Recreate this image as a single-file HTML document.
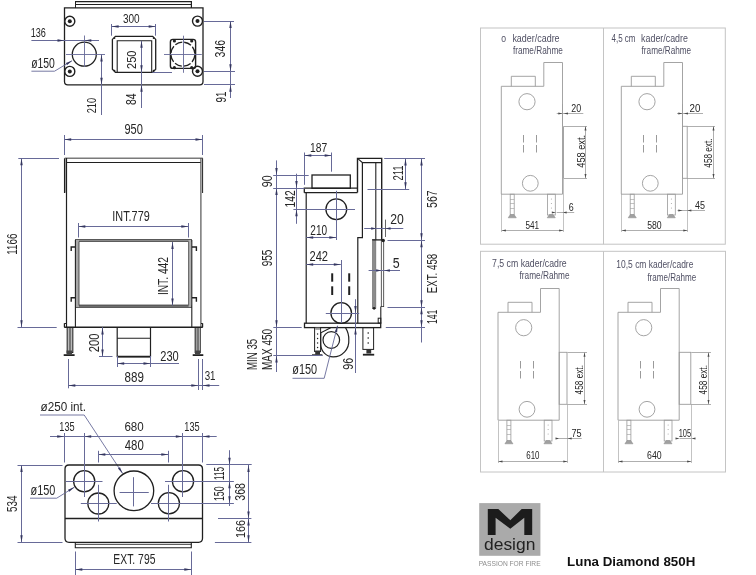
<!DOCTYPE html>
<html><head><meta charset="utf-8"><style>
html,body{margin:0;padding:0;background:#fff;width:756px;height:575px;overflow:hidden}
svg{display:block;will-change:transform}
text{font-family:"Liberation Sans",sans-serif}
</style></head><body>
<svg width="756" height="575" viewBox="0 0 756 575">
<rect x="0" y="0" width="756" height="575" fill="#fff"/>
<line x1="75.2" y1="1.6" x2="191.4" y2="1.6" stroke="#202020" stroke-width="1.3" />
<line x1="75.2" y1="4.5" x2="191.4" y2="4.5" stroke="#202020" stroke-width="1.2" />
<line x1="191.4" y1="1" x2="191.4" y2="8" stroke="#202020" stroke-width="1.2" />
<line x1="75.5" y1="1" x2="75.5" y2="8" stroke="#202020" stroke-width="1" />
<path d="M64.5,7.9 H203.0 V81.5 Q203,84.8 199.8,84.8 H67.7 Q64.5,84.8 64.5,81.5 Z" stroke="#202020" stroke-width="1.3" fill="none" />
<circle cx="69.8" cy="21.2" r="5" stroke="#202020" stroke-width="1.4" fill="#fff" />
<circle cx="69.8" cy="21.2" r="2" stroke="#202020" stroke-width="0" fill="#202020" />
<circle cx="197.5" cy="21.1" r="5" stroke="#202020" stroke-width="1.4" fill="#fff" />
<circle cx="197.5" cy="21.1" r="2" stroke="#202020" stroke-width="0" fill="#202020" />
<circle cx="69.8" cy="71.4" r="5" stroke="#202020" stroke-width="1.4" fill="#fff" />
<circle cx="69.8" cy="71.4" r="2" stroke="#202020" stroke-width="0" fill="#202020" />
<circle cx="197.5" cy="71.3" r="5" stroke="#202020" stroke-width="1.4" fill="#fff" />
<circle cx="197.5" cy="71.3" r="2" stroke="#202020" stroke-width="0" fill="#202020" />
<circle cx="84.3" cy="54.2" r="12" stroke="#202020" stroke-width="1.3" fill="none" />
<line x1="84.5" y1="35.5" x2="84.5" y2="67" stroke="#676a98" stroke-width="0.9" />
<line x1="66" y1="54.5" x2="105" y2="54.5" stroke="#676a98" stroke-width="0.9" />
<path d="M115.4,36.4 H152.7 L155.7,39.4 V69.3 L152.7,72.3 H115.4 L112.4,69.3 V39.4 Z" stroke="#202020" stroke-width="1.3" fill="none" />
<polyline points="117.2,72.3 117.2,40.8 151.7,40.8 151.7,72.3" stroke="#202020" stroke-width="1.1" fill="none"/>
<circle cx="114.5" cy="38.1" r="0.9" stroke="#202020" stroke-width="0" fill="#202020" />
<circle cx="153.6" cy="38.1" r="0.9" stroke="#202020" stroke-width="0" fill="#202020" />
<circle cx="114.5" cy="70.6" r="0.9" stroke="#202020" stroke-width="0" fill="#202020" />
<circle cx="153.6" cy="70.6" r="0.9" stroke="#202020" stroke-width="0" fill="#202020" />
<rect x="170.4" y="39.4" width="25.2" height="29" rx="2.5" stroke="#202020" stroke-width="1.4" fill="none"/>
<circle cx="182.9" cy="54.2" r="12" stroke="#202020" stroke-width="1.3" fill="none" stroke-dasharray="7.42 2" stroke-dashoffset="8.42"/>
<circle cx="174.4" cy="41" r="1.6" stroke="#202020" stroke-width="0" fill="#202020" />
<circle cx="191.7" cy="41" r="1.6" stroke="#202020" stroke-width="0" fill="#202020" />
<circle cx="174.4" cy="67.7" r="1.6" stroke="#202020" stroke-width="0" fill="#202020" />
<circle cx="191.7" cy="67.7" r="1.6" stroke="#202020" stroke-width="0" fill="#202020" />
<line x1="183.5" y1="35.7" x2="183.5" y2="72.8" stroke="#676a98" stroke-width="0.9" />
<line x1="164" y1="54.5" x2="201.8" y2="54.5" stroke="#676a98" stroke-width="0.9" />
<line x1="31.4" y1="40.5" x2="99" y2="40.5" stroke="#676a98" stroke-width="1" />
<polygon points="64.5,40.5 57.5,39.3 57.5,41.7" fill="#34365f"/>
<polygon points="84.3,40.5 91.3,39.3 91.3,41.7" fill="#34365f"/>
<text x="30.71" y="36.57" font-size="13.28" textLength="15.19" lengthAdjust="spacingAndGlyphs" fill="#262626" font-weight="normal">136</text>
<polyline points="31.4,71.2 54.5,71.2 71.9,60.8" stroke="#676a98" stroke-width="0.9" fill="none"/>
<polygon points="72.5,60.5 67.1,65.11 65.87,63.05" fill="#34365f"/>
<text x="31.18" y="67.92" font-size="14.93" textLength="23.73" lengthAdjust="spacingAndGlyphs" fill="#262626" font-weight="normal">ø150</text>
<line x1="101.5" y1="54.2" x2="101.5" y2="115" stroke="#676a98" stroke-width="1" />
<polygon points="101.5,54.4 100.3,61.4 102.7,61.4" fill="#34365f"/>
<polygon points="101.5,84.8 100.3,77.8 102.7,77.8" fill="#34365f"/>
<text transform="translate(95.77,113.36) rotate(-90)" x="0" y="0" font-size="12.85" textLength="15.43" lengthAdjust="spacingAndGlyphs" fill="#262626">210</text>
<line x1="111.5" y1="24" x2="111.5" y2="35.7" stroke="#676a98" stroke-width="1" />
<line x1="155.5" y1="24" x2="155.5" y2="35.7" stroke="#676a98" stroke-width="1" />
<line x1="111.6" y1="26.5" x2="155.7" y2="26.5" stroke="#676a98" stroke-width="1" />
<polygon points="111.6,26.5 118.6,25.3 118.6,27.7" fill="#34365f"/>
<polygon points="155.7,26.5 148.7,25.3 148.7,27.7" fill="#34365f"/>
<text x="122.92" y="23.48" font-size="12.71" textLength="16.78" lengthAdjust="spacingAndGlyphs" fill="#262626" font-weight="normal">300</text>
<line x1="141.5" y1="40.8" x2="141.5" y2="108" stroke="#676a98" stroke-width="1" />
<polygon points="141.5,40.8 140.3,47.8 142.7,47.8" fill="#34365f"/>
<polygon points="141.5,72.3 140.3,65.3 142.7,65.3" fill="#34365f"/>
<polygon points="141.5,84.8 140.3,91.8 142.7,91.8" fill="#34365f"/>
<line x1="152.4" y1="72.5" x2="172" y2="72.5" stroke="#676a98" stroke-width="1" />
<text transform="translate(135.57,68.96) rotate(-90)" x="0" y="0" font-size="13.42" textLength="18.49" lengthAdjust="spacingAndGlyphs" fill="#262626">250</text>
<text transform="translate(136.36,105.05) rotate(-90)" x="0" y="0" font-size="13.98" textLength="11.56" lengthAdjust="spacingAndGlyphs" fill="#262626">84</text>
<line x1="204" y1="21.5" x2="234" y2="21.5" stroke="#676a98" stroke-width="1" />
<line x1="204" y1="71.5" x2="235" y2="71.5" stroke="#676a98" stroke-width="1" />
<line x1="204" y1="84.5" x2="235" y2="84.5" stroke="#676a98" stroke-width="1" />
<line x1="230.5" y1="21.1" x2="230.5" y2="98" stroke="#676a98" stroke-width="1" />
<polygon points="230.5,21.1 229.3,28.1 231.7,28.1" fill="#34365f"/>
<polygon points="230.5,71.3 229.3,64.3 231.7,64.3" fill="#34365f"/>
<polygon points="230.5,84.8 229.3,91.8 231.7,91.8" fill="#34365f"/>
<text transform="translate(224.86,57.4) rotate(-90)" x="0" y="0" font-size="14.12" textLength="17.35" lengthAdjust="spacingAndGlyphs" fill="#262626">346</text>
<text transform="translate(225.65,102.46) rotate(-90)" x="0" y="0" font-size="15.25" textLength="10.94" lengthAdjust="spacingAndGlyphs" fill="#262626">91</text>
<line x1="64.5" y1="135" x2="64.5" y2="155" stroke="#676a98" stroke-width="1" />
<line x1="202.5" y1="135" x2="202.5" y2="155" stroke="#676a98" stroke-width="1" />
<line x1="64.2" y1="139.5" x2="202.5" y2="139.5" stroke="#676a98" stroke-width="1" />
<polygon points="64.2,139.5 71.2,138.3 71.2,140.7" fill="#34365f"/>
<polygon points="202.5,139.5 195.5,138.3 195.5,140.7" fill="#34365f"/>
<text x="124.48" y="133.56" font-size="14.69" textLength="18.45" lengthAdjust="spacingAndGlyphs" fill="#262626" font-weight="normal">950</text>
<line x1="64.7" y1="158.3" x2="202.8" y2="158.3" stroke="#7a7a7a" stroke-width="1.5" />
<line x1="66.5" y1="162.5" x2="201" y2="162.5" stroke="#202020" stroke-width="1.2" />
<polyline points="64.6,193 64.6,158.3" stroke="#202020" stroke-width="1.3" fill="none"/>
<polyline points="202.6,193 202.6,158.3" stroke="#202020" stroke-width="1" fill="none"/>
<rect x="65.2" y="158.5" width="0.8" height="34" fill="#999"/>
<line x1="66.5" y1="158" x2="66.5" y2="327.2" stroke="#202020" stroke-width="1.2" />
<line x1="200.9" y1="158" x2="200.9" y2="327.2" stroke="#555" stroke-width="1.2" />
<line x1="18.3" y1="158.5" x2="59" y2="158.5" stroke="#676a98" stroke-width="1" />
<line x1="17.5" y1="327.5" x2="56.7" y2="327.5" stroke="#676a98" stroke-width="1" />
<line x1="21.5" y1="158.2" x2="21.5" y2="327.2" stroke="#676a98" stroke-width="1" />
<polygon points="21.5,158.2 20.3,165.2 22.7,165.2" fill="#34365f"/>
<polygon points="21.5,327.2 20.3,320.2 22.7,320.2" fill="#34365f"/>
<text transform="translate(16.55,254.72) rotate(-90)" x="0" y="0" font-size="15.4" textLength="21.14" lengthAdjust="spacingAndGlyphs" fill="#262626">1166</text>
<line x1="78.5" y1="223" x2="78.5" y2="237.5" stroke="#676a98" stroke-width="1" />
<line x1="188.5" y1="223" x2="188.5" y2="237.5" stroke="#676a98" stroke-width="1" />
<line x1="78.3" y1="226.5" x2="188.3" y2="226.5" stroke="#676a98" stroke-width="1" />
<polygon points="78.3,226.5 85.3,225.3 85.3,227.7" fill="#34365f"/>
<polygon points="188.3,226.5 181.3,225.3 181.3,227.7" fill="#34365f"/>
<text x="112.33" y="221.06" font-size="13.98" textLength="37.37" lengthAdjust="spacingAndGlyphs" fill="#262626" font-weight="normal">INT.779</text>
<rect x="75" y="239.2" width="117" height="2.8" fill="#9a9a9a"/>
<rect x="75" y="304.8" width="117" height="2.8" fill="#8a8a8a"/>
<line x1="75" y1="239.7" x2="192" y2="239.7" stroke="#444" stroke-width="1" />
<line x1="79" y1="241.5" x2="188.6" y2="241.5" stroke="#555" stroke-width="0.9" />
<line x1="79" y1="305.2" x2="188.6" y2="305.2" stroke="#444" stroke-width="1" />
<line x1="75" y1="307.2" x2="192" y2="307.2" stroke="#333" stroke-width="1" />
<rect x="75.5" y="240" width="3.5" height="67" fill="#a8a8a8"/>
<rect x="188.6" y="240" width="2.9" height="67" fill="#b0b0b0"/>
<line x1="75.4" y1="240" x2="75.4" y2="327" stroke="#202020" stroke-width="1.1" />
<line x1="191.8" y1="240" x2="191.8" y2="327" stroke="#202020" stroke-width="1.1" />
<line x1="79" y1="241.5" x2="79" y2="305.5" stroke="#444" stroke-width="0.9" />
<line x1="188.6" y1="241.5" x2="188.6" y2="305.5" stroke="#555" stroke-width="0.9" />
<polyline points="75,247 71.2,247 71.2,251" stroke="#202020" stroke-width="1.4" fill="none"/>
<polyline points="192,247 196.4,247 196.4,251" stroke="#202020" stroke-width="1.4" fill="none"/>
<polyline points="75,297.8 71.2,297.8 71.2,301.8" stroke="#202020" stroke-width="1.4" fill="none"/>
<polyline points="192,297.8 196.4,297.8 196.4,301.8" stroke="#202020" stroke-width="1.4" fill="none"/>
<line x1="172.5" y1="242" x2="172.5" y2="305.5" stroke="#676a98" stroke-width="1" />
<polygon points="172.5,242 171.3,249 173.7,249" fill="#34365f"/>
<polygon points="172.5,305.5 171.3,298.5 173.7,298.5" fill="#34365f"/>
<text transform="translate(167.5,295.12) rotate(-90)" x="0" y="0" font-size="15.47" textLength="38.12" lengthAdjust="spacingAndGlyphs" fill="#262626">INT. 442</text>
<line x1="64.2" y1="327.2" x2="202.8" y2="327.2" stroke="#202020" stroke-width="1.6" />
<line x1="64.4" y1="323.3" x2="64.4" y2="327.2" stroke="#202020" stroke-width="1.2" />
<line x1="202.6" y1="323.3" x2="202.6" y2="327.2" stroke="#202020" stroke-width="1.2" />
<line x1="64.4" y1="323.5" x2="66.5" y2="323.5" stroke="#202020" stroke-width="1" />
<line x1="201" y1="323.5" x2="202.6" y2="323.5" stroke="#202020" stroke-width="1" />
<rect x="67.2" y="327.5" width="5.6" height="25" rx="0" stroke="#202020" stroke-width="1.1" fill="none"/>
<rect x="68.5" y="328" width="3" height="24" fill="#777"/>
<rect x="63.7" y="354.2" width="10.9" height="1.8" fill="#222"/>
<rect x="66.5" y="350.5" width="5.5" height="3.7" fill="#444"/>
<rect x="195.2" y="327.5" width="5" height="25" rx="0" stroke="#202020" stroke-width="1.1" fill="none"/>
<rect x="196.3" y="328" width="2.7" height="24" fill="#777"/>
<rect x="192.7" y="354.2" width="10.6" height="1.8" fill="#222"/>
<rect x="195" y="350.5" width="5.2" height="3.7" fill="#444"/>
<polyline points="117.2,327.2 117.2,356.6 150.5,356.6 150.5,327.2" stroke="#202020" stroke-width="1.2" fill="none"/>
<line x1="117.2" y1="356.6" x2="150.5" y2="356.6" stroke="#202020" stroke-width="1.6" />
<line x1="117.2" y1="338.3" x2="150.5" y2="338.3" stroke="#202020" stroke-width="1.1" />
<line x1="102.5" y1="327.2" x2="102.5" y2="356.7" stroke="#676a98" stroke-width="1" />
<line x1="99" y1="356.5" x2="112.5" y2="356.5" stroke="#676a98" stroke-width="1" />
<polygon points="102.5,327.4 101.3,334.4 103.7,334.4" fill="#34365f"/>
<polygon points="102.5,356.5 101.3,349.5 103.7,349.5" fill="#34365f"/>
<text transform="translate(99.05,352.26) rotate(-90)" x="0" y="0" font-size="15.4" textLength="18.7" lengthAdjust="spacingAndGlyphs" fill="#262626">200</text>
<line x1="117.5" y1="356" x2="117.5" y2="367" stroke="#676a98" stroke-width="1" />
<line x1="150.5" y1="356" x2="150.5" y2="367" stroke="#676a98" stroke-width="1" />
<line x1="117.2" y1="363.5" x2="179" y2="363.5" stroke="#676a98" stroke-width="1" />
<polygon points="117.2,363.5 124.2,362.3 124.2,364.7" fill="#34365f"/>
<polygon points="150.5,363.5 143.5,362.3 143.5,364.7" fill="#34365f"/>
<text x="160.24" y="360.66" font-size="14.12" textLength="18.49" lengthAdjust="spacingAndGlyphs" fill="#262626" font-weight="normal">230</text>
<line x1="68.5" y1="359" x2="68.5" y2="388.3" stroke="#676a98" stroke-width="1" />
<line x1="198.5" y1="359" x2="198.5" y2="390" stroke="#676a98" stroke-width="1" />
<line x1="202.5" y1="359" x2="202.5" y2="390" stroke="#676a98" stroke-width="1" />
<line x1="68.3" y1="385.5" x2="219.2" y2="385.5" stroke="#676a98" stroke-width="1" />
<polygon points="68.3,385.5 75.3,384.3 75.3,386.7" fill="#34365f"/>
<polygon points="198.3,385.5 191.3,384.3 191.3,386.7" fill="#34365f"/>
<polygon points="202.5,385.5 209.5,384.3 209.5,386.7" fill="#34365f"/>
<text x="124.5" y="382.36" font-size="14.12" textLength="19.35" lengthAdjust="spacingAndGlyphs" fill="#262626" font-weight="normal">889</text>
<text x="204.63" y="379.87" font-size="12.99" textLength="10.85" lengthAdjust="spacingAndGlyphs" fill="#262626" font-weight="normal">31</text>
<text x="40.55" y="411.47" font-size="12.38" textLength="45.52" lengthAdjust="spacingAndGlyphs" fill="#262626" font-weight="normal">ø250 int.</text>
<polyline points="40,415 84.2,415 122.5,473.3" stroke="#676a98" stroke-width="0.9" fill="none"/>
<polygon points="122.8,473.8 117.96,468.61 119.96,467.29" fill="#34365f"/>
<line x1="50" y1="436.5" x2="216.7" y2="436.5" stroke="#676a98" stroke-width="1" />
<polygon points="64.2,436.5 57.2,435.3 57.2,437.7" fill="#34365f"/>
<polygon points="84.2,436.5 91.2,435.3 91.2,437.7" fill="#34365f"/>
<polygon points="182.8,436.5 175.8,435.3 175.8,437.7" fill="#34365f"/>
<polygon points="202.5,436.5 209.5,435.3 209.5,437.7" fill="#34365f"/>
<line x1="64.5" y1="433" x2="64.5" y2="462.5" stroke="#676a98" stroke-width="1" />
<line x1="202.5" y1="433" x2="202.5" y2="462.5" stroke="#676a98" stroke-width="1" />
<text x="59.3" y="430.67" font-size="12.85" textLength="15.28" lengthAdjust="spacingAndGlyphs" fill="#262626" font-weight="normal">135</text>
<text x="124.41" y="430.67" font-size="12.85" textLength="19.34" lengthAdjust="spacingAndGlyphs" fill="#262626" font-weight="normal">680</text>
<text x="184.3" y="430.67" font-size="12.85" textLength="15.28" lengthAdjust="spacingAndGlyphs" fill="#262626" font-weight="normal">135</text>
<line x1="98.3" y1="454.5" x2="168.3" y2="454.5" stroke="#676a98" stroke-width="1" />
<polygon points="98.3,454.5 105.3,453.3 105.3,455.7" fill="#34365f"/>
<polygon points="168.3,454.5 161.3,453.3 161.3,455.7" fill="#34365f"/>
<text x="124.74" y="449.86" font-size="14.12" textLength="19.01" lengthAdjust="spacingAndGlyphs" fill="#262626" font-weight="normal">480</text>
<path d="M69,465 H198.5 Q202.5,465 202.5,469 V538.3 Q202.5,542.3 198.5,542.3 H69 Q65,542.3 65,538.3 V469 Q65,465 69,465 Z" stroke="#202020" stroke-width="1.3" fill="none" />
<line x1="65" y1="518.5" x2="202.5" y2="518.5" stroke="#202020" stroke-width="1.3" />
<polyline points="75.3,542.6 75.3,547.7 191.3,547.7 191.3,542.6" stroke="#202020" stroke-width="1.1" fill="none"/>
<line x1="75.3" y1="544.3" x2="191.3" y2="544.3" stroke="#202020" stroke-width="0.9" />
<circle cx="84.2" cy="481.2" r="10.6" stroke="#202020" stroke-width="1.3" fill="none" />
<circle cx="183" cy="481.3" r="10.6" stroke="#202020" stroke-width="1.3" fill="none" />
<circle cx="98.3" cy="503.5" r="10.5" stroke="#202020" stroke-width="1.3" fill="none" />
<circle cx="168.9" cy="503.3" r="10.6" stroke="#202020" stroke-width="1.3" fill="none" />
<circle cx="133.9" cy="490.8" r="19.8" stroke="#202020" stroke-width="1.3" fill="none" />
<line x1="84.5" y1="433" x2="84.5" y2="497" stroke="#676a98" stroke-width="1" />
<line x1="182.5" y1="433" x2="182.5" y2="497" stroke="#676a98" stroke-width="1" />
<line x1="65.8" y1="481.5" x2="102.5" y2="481.5" stroke="#676a98" stroke-width="1" />
<line x1="165" y1="481.5" x2="233.9" y2="481.5" stroke="#676a98" stroke-width="1" />
<line x1="98.5" y1="450.8" x2="98.5" y2="462.5" stroke="#676a98" stroke-width="1" />
<line x1="168.5" y1="450.8" x2="168.5" y2="462.5" stroke="#676a98" stroke-width="1" />
<line x1="98.5" y1="484.8" x2="98.5" y2="521.5" stroke="#676a98" stroke-width="1" />
<line x1="168.5" y1="484.8" x2="168.5" y2="521.5" stroke="#676a98" stroke-width="1" />
<line x1="80.8" y1="503.5" x2="116.7" y2="503.5" stroke="#676a98" stroke-width="1" />
<line x1="151" y1="503.5" x2="233.9" y2="503.5" stroke="#676a98" stroke-width="1" />
<line x1="119.6" y1="492.5" x2="148.75" y2="492.5" stroke="#676a98" stroke-width="1" />
<line x1="133.5" y1="477.2" x2="133.5" y2="506.4" stroke="#676a98" stroke-width="1" />
<line x1="17.5" y1="465.5" x2="62.5" y2="465.5" stroke="#676a98" stroke-width="1" />
<line x1="17.5" y1="542.5" x2="62.5" y2="542.5" stroke="#676a98" stroke-width="1" />
<line x1="21.5" y1="465" x2="21.5" y2="542.3" stroke="#676a98" stroke-width="1" />
<polygon points="21.5,465 20.3,472 22.7,472" fill="#34365f"/>
<polygon points="21.5,542.3 20.3,535.3 22.7,535.3" fill="#34365f"/>
<text transform="translate(16.55,511.9) rotate(-90)" x="0" y="0" font-size="15.4" textLength="16.49" lengthAdjust="spacingAndGlyphs" fill="#262626">534</text>
<text x="30.57" y="494.54" font-size="13.95" textLength="24.86" lengthAdjust="spacingAndGlyphs" fill="#262626" font-weight="normal">ø150</text>
<polyline points="30,498.2 56.7,498.2 74.2,487.3" stroke="#676a98" stroke-width="0.9" fill="none"/>
<polygon points="74.6,487 69.3,491.73 68.03,489.7" fill="#34365f"/>
<line x1="75.5" y1="551.5" x2="75.5" y2="575" stroke="#676a98" stroke-width="1" />
<line x1="191.5" y1="551.5" x2="191.5" y2="575" stroke="#676a98" stroke-width="1" />
<line x1="75.3" y1="569.5" x2="191.3" y2="569.5" stroke="#676a98" stroke-width="1" />
<polygon points="75.3,569.5 82.3,568.3 82.3,570.7" fill="#34365f"/>
<polygon points="191.3,569.5 184.3,568.3 184.3,570.7" fill="#34365f"/>
<text x="113.37" y="563.86" font-size="14.12" textLength="42.05" lengthAdjust="spacingAndGlyphs" fill="#262626" font-weight="normal">EXT. 795</text>
<line x1="206.3" y1="464.5" x2="251.7" y2="464.5" stroke="#676a98" stroke-width="1" />
<line x1="218" y1="518.5" x2="251.4" y2="518.5" stroke="#676a98" stroke-width="1" />
<line x1="214.9" y1="542.5" x2="251.4" y2="542.5" stroke="#676a98" stroke-width="1" />
<line x1="229.5" y1="450.2" x2="229.5" y2="506" stroke="#676a98" stroke-width="1" />
<polygon points="229.5,464.8 228.3,457.8 230.7,457.8" fill="#34365f"/>
<polygon points="229.5,481.3 228.3,488.3 230.7,488.3" fill="#34365f"/>
<polygon points="229.5,503.2 228.3,496.2 230.7,496.2" fill="#34365f"/>
<line x1="248.5" y1="465" x2="248.5" y2="542.3" stroke="#676a98" stroke-width="1" />
<polygon points="248.5,465 247.3,472 249.7,472" fill="#34365f"/>
<polygon points="248.5,518.5 247.3,511.5 249.7,511.5" fill="#34365f"/>
<polygon points="248.5,518.5 247.3,525.5 249.7,525.5" fill="#34365f"/>
<polygon points="248.5,542.3 247.3,535.3 249.7,535.3" fill="#34365f"/>
<text transform="translate(223.86,479.99) rotate(-90)" x="0" y="0" font-size="14.19" textLength="12.91" lengthAdjust="spacingAndGlyphs" fill="#262626">115</text>
<text transform="translate(223.86,500.96) rotate(-90)" x="0" y="0" font-size="13.98" textLength="14.5" lengthAdjust="spacingAndGlyphs" fill="#262626">150</text>
<text transform="translate(245.26,500.7) rotate(-90)" x="0" y="0" font-size="14.69" textLength="17.56" lengthAdjust="spacingAndGlyphs" fill="#262626">368</text>
<text transform="translate(245.07,537.92) rotate(-90)" x="0" y="0" font-size="13.28" textLength="18" lengthAdjust="spacingAndGlyphs" fill="#262626">166</text>
<line x1="304.5" y1="152.5" x2="304.5" y2="184.8" stroke="#676a98" stroke-width="1" />
<line x1="331.5" y1="152.5" x2="331.5" y2="171.7" stroke="#676a98" stroke-width="1" />
<line x1="304.3" y1="155.5" x2="331.7" y2="155.5" stroke="#676a98" stroke-width="1" />
<polygon points="304.3,155.5 311.3,154.3 311.3,156.7" fill="#34365f"/>
<polygon points="331.7,155.5 324.7,154.3 324.7,156.7" fill="#34365f"/>
<text x="310.01" y="151.57" font-size="12.99" textLength="17.2" lengthAdjust="spacingAndGlyphs" fill="#262626" font-weight="normal">187</text>
<rect x="312" y="175" width="38.3" height="13.3" rx="0" stroke="#202020" stroke-width="1.3" fill="none"/>
<polyline points="304.3,192.8 304.3,188.1 357.5,188.1" stroke="#202020" stroke-width="1.3" fill="none"/>
<line x1="304.3" y1="192.6" x2="357.5" y2="192.6" stroke="#202020" stroke-width="1.3" />
<line x1="306.2" y1="193" x2="306.2" y2="323.3" stroke="#202020" stroke-width="1.2" />
<polyline points="357.5,192.6 357.5,158.4 381.7,158.4 381.7,240" stroke="#202020" stroke-width="1.4" fill="none"/>
<polyline points="357.5,158.4 362.5,162.6 381.7,162.6" stroke="#202020" stroke-width="1.2" fill="none"/>
<polyline points="362.4,162.6 362.4,237.7 357.8,237.7 357.8,323.3" stroke="#202020" stroke-width="1.2" fill="none"/>
<line x1="375.8" y1="162.6" x2="375.8" y2="240" stroke="#202020" stroke-width="1.1" />
<rect x="372.3" y="239.7" width="3.6" height="68.8" fill="#8c8c8c"/>
<rect x="372.3" y="239.7" width="3.6" height="68.8" rx="0" stroke="#666" stroke-width="0.5" fill="none"/>
<circle cx="374.1" cy="308.3" r="1.4" stroke="#202020" stroke-width="0" fill="#202020" />
<line x1="372.3" y1="239.9" x2="383.3" y2="239.9" stroke="#202020" stroke-width="1.3" />
<rect x="381.3" y="240" width="2.4" height="66.6" rx="0" stroke="#333" stroke-width="0.8" fill="none"/>
<line x1="380.8" y1="306.6" x2="380.8" y2="323.5" stroke="#202020" stroke-width="1.1" />
<circle cx="383.2" cy="240.5" r="1.7" stroke="#202020" stroke-width="0" fill="#202020" />
<line x1="332.2" y1="273.3" x2="332.2" y2="281.7" stroke="#202020" stroke-width="2" />
<line x1="332.2" y1="286.3" x2="332.2" y2="295" stroke="#202020" stroke-width="2" />
<line x1="349.2" y1="273.3" x2="349.2" y2="281.7" stroke="#202020" stroke-width="2" />
<line x1="349.2" y1="286.3" x2="349.2" y2="295" stroke="#202020" stroke-width="2" />
<circle cx="336.3" cy="209.2" r="10.4" stroke="#202020" stroke-width="1.3" fill="none" />
<circle cx="341.2" cy="313" r="10.3" stroke="#202020" stroke-width="1.3" fill="none" />
<rect x="304.5" y="323.2" width="76.2" height="4.4" rx="0" stroke="#202020" stroke-width="1.3" fill="none"/>
<rect x="378.2" y="318.2" width="2.6" height="4.9" rx="0" stroke="#202020" stroke-width="1" fill="none"/>
<rect x="314.6" y="327.6" width="6" height="23.9" rx="0" stroke="#202020" stroke-width="1" fill="none"/>
<rect x="315.3" y="327.6" width="4.6" height="2.2" fill="#999"/>
<circle cx="317.6" cy="334" r="0.7" stroke="#202020" stroke-width="0" fill="#202020" />
<circle cx="317.6" cy="338.5" r="0.7" stroke="#202020" stroke-width="0" fill="#202020" />
<circle cx="317.6" cy="343" r="0.7" stroke="#202020" stroke-width="0" fill="#202020" />
<circle cx="317.6" cy="347.5" r="0.7" stroke="#202020" stroke-width="0" fill="#202020" />
<rect x="315.2" y="350.5" width="4.8" height="4" fill="#333"/>
<rect x="312" y="354.3" width="10.4" height="1.7" fill="#222"/>
<rect x="362.9" y="327.6" width="10.7" height="21.8" rx="0" stroke="#202020" stroke-width="1" fill="none"/>
<circle cx="368.2" cy="333" r="0.8" stroke="#202020" stroke-width="0" fill="#202020" />
<circle cx="368.2" cy="338" r="0.8" stroke="#202020" stroke-width="0" fill="#202020" />
<circle cx="368.2" cy="343" r="0.8" stroke="#202020" stroke-width="0" fill="#202020" />
<rect x="366.4" y="349.4" width="4.8" height="4.1" fill="#333"/>
<rect x="362.9" y="353.8" width="11.3" height="1.8" fill="#222"/>
<path d="M345.6,327.8 Q349,333 348.8,340 A15.8,15.8 0 0 1 333.1,356.9 A12.5,12.5 0 0 1 320.8,345 Q320.6,338 320.8,332.8 L330.7,327.8" stroke="#202020" stroke-width="1.2" fill="none" />
<circle cx="331.3" cy="340" r="8.3" stroke="#202020" stroke-width="1.2" fill="none" />
<line x1="273.2" y1="175.5" x2="308.7" y2="175.5" stroke="#676a98" stroke-width="1" />
<line x1="273.2" y1="188.5" x2="304.6" y2="188.5" stroke="#676a98" stroke-width="1" />
<line x1="276.5" y1="160.4" x2="276.5" y2="372" stroke="#676a98" stroke-width="1" />
<polygon points="276.5,175.1 275.3,168.1 277.7,168.1" fill="#34365f"/>
<polygon points="276.5,188 275.3,195 277.7,195" fill="#34365f"/>
<polygon points="276.5,327.2 275.3,320.2 277.7,320.2" fill="#34365f"/>
<polygon points="276.5,355.5 275.3,362.5 277.7,362.5" fill="#34365f"/>
<text transform="translate(271.55,187.2) rotate(-90)" x="0" y="0" font-size="15.4" textLength="11.81" lengthAdjust="spacingAndGlyphs" fill="#262626">90</text>
<line x1="296.5" y1="173.7" x2="296.5" y2="223.8" stroke="#676a98" stroke-width="1" />
<polygon points="296.5,188 295.3,181 297.7,181" fill="#34365f"/>
<polygon points="296.5,209.2 295.3,216.2 297.7,216.2" fill="#34365f"/>
<line x1="293.4" y1="209.5" x2="355" y2="209.5" stroke="#676a98" stroke-width="1" />
<line x1="336.5" y1="190.8" x2="336.5" y2="240" stroke="#676a98" stroke-width="1" />
<text transform="translate(295,207.49) rotate(-90)" x="0" y="0" font-size="15.47" textLength="17.2" lengthAdjust="spacingAndGlyphs" fill="#262626">142</text>
<text x="310.29" y="234.86" font-size="14.12" textLength="16.8" lengthAdjust="spacingAndGlyphs" fill="#262626" font-weight="normal">210</text>
<line x1="306.2" y1="237.5" x2="336.3" y2="237.5" stroke="#676a98" stroke-width="1" />
<polygon points="306.2,237.5 313.2,236.3 313.2,238.7" fill="#34365f"/>
<polygon points="336.3,237.5 329.3,236.3 329.3,238.7" fill="#34365f"/>
<text x="309.44" y="260.8" font-size="14.32" textLength="18.62" lengthAdjust="spacingAndGlyphs" fill="#262626" font-weight="normal">242</text>
<line x1="306.2" y1="264.5" x2="340.8" y2="264.5" stroke="#676a98" stroke-width="1" />
<polygon points="306.2,264.5 313.2,263.3 313.2,265.7" fill="#34365f"/>
<polygon points="340.8,264.5 333.8,263.3 333.8,265.7" fill="#34365f"/>
<line x1="341.5" y1="260" x2="341.5" y2="323" stroke="#676a98" stroke-width="1" />
<line x1="325.8" y1="313.5" x2="359.2" y2="313.5" stroke="#676a98" stroke-width="1" />
<text transform="translate(271.55,266.27) rotate(-90)" x="0" y="0" font-size="15.4" textLength="16.69" lengthAdjust="spacingAndGlyphs" fill="#262626">955</text>
<line x1="273.3" y1="327.5" x2="301.7" y2="327.5" stroke="#676a98" stroke-width="1" />
<line x1="273.3" y1="355.5" x2="322.5" y2="355.5" stroke="#676a98" stroke-width="1" />
<text transform="translate(257.36,369.99) rotate(-90)" x="0" y="0" font-size="14.12" textLength="31.2" lengthAdjust="spacingAndGlyphs" fill="#262626">MIN 35</text>
<text transform="translate(271.56,370.02) rotate(-90)" x="0" y="0" font-size="14.12" textLength="41.21" lengthAdjust="spacingAndGlyphs" fill="#262626">MAX 450</text>
<polyline points="292.5,378.3 324.2,378.3 337.5,325.8" stroke="#676a98" stroke-width="0.9" fill="none"/>
<polygon points="337.7,325.2 337.14,332.28 334.81,331.69" fill="#34365f"/>
<text x="292.27" y="373.94" font-size="13.95" textLength="24.86" lengthAdjust="spacingAndGlyphs" fill="#262626" font-weight="normal">ø150</text>
<line x1="355.5" y1="299.2" x2="355.5" y2="373" stroke="#676a98" stroke-width="1" />
<polygon points="355.5,313 354.3,306 356.7,306" fill="#34365f"/>
<polygon points="355.5,327.4 354.3,334.4 356.7,334.4" fill="#34365f"/>
<text transform="translate(353.15,369.7) rotate(-90)" x="0" y="0" font-size="15.25" textLength="11.87" lengthAdjust="spacingAndGlyphs" fill="#262626">96</text>
<line x1="384.2" y1="158.5" x2="425" y2="158.5" stroke="#676a98" stroke-width="1" />
<line x1="367.5" y1="189.5" x2="409.2" y2="189.5" stroke="#676a98" stroke-width="1" />
<line x1="405.5" y1="158.4" x2="405.5" y2="189.2" stroke="#676a98" stroke-width="1" />
<polygon points="405.5,158.4 404.3,165.4 406.7,165.4" fill="#34365f"/>
<polygon points="405.5,189.2 404.3,182.2 406.7,182.2" fill="#34365f"/>
<text transform="translate(402.5,180.46) rotate(-90)" x="0" y="0" font-size="15.47" textLength="15.1" lengthAdjust="spacingAndGlyphs" fill="#262626">211</text>
<line x1="421.5" y1="158.4" x2="421.5" y2="342.5" stroke="#676a98" stroke-width="1" />
<polygon points="421.5,158.4 420.3,165.4 422.7,165.4" fill="#34365f"/>
<polygon points="421.5,240.3 420.3,233.3 422.7,233.3" fill="#34365f"/>
<polygon points="421.5,240.3 420.3,247.3 422.7,247.3" fill="#34365f"/>
<polygon points="421.5,307.2 420.3,300.2 422.7,300.2" fill="#34365f"/>
<polygon points="421.5,307.2 420.3,314.2 422.7,314.2" fill="#34365f"/>
<polygon points="421.5,327.2 420.3,320.2 422.7,320.2" fill="#34365f"/>
<text transform="translate(436.55,207.92) rotate(-90)" x="0" y="0" font-size="15.4" textLength="17.66" lengthAdjust="spacingAndGlyphs" fill="#262626">567</text>
<line x1="364.2" y1="228.5" x2="403.3" y2="228.5" stroke="#676a98" stroke-width="1" />
<polygon points="376.2,228.5 371.2,227.3 371.2,229.7" fill="#34365f"/>
<polygon points="385.5,228.5 390.5,227.3 390.5,229.7" fill="#34365f"/>
<line x1="385.5" y1="219.6" x2="385.5" y2="237" stroke="#555" stroke-width="0.9" />
<text x="390.19" y="224.06" font-size="14.12" textLength="13.59" lengthAdjust="spacingAndGlyphs" fill="#262626" font-weight="normal">20</text>
<line x1="368.6" y1="270.5" x2="400" y2="270.5" stroke="#676a98" stroke-width="1" />
<polygon points="381.2,270.5 376.2,269.3 376.2,271.7" fill="#34365f"/>
<polygon points="384.4,270.5 389.9,269.3 389.9,271.7" fill="#34365f"/>
<text x="392.8" y="268.16" font-size="14.76" textLength="6.92" lengthAdjust="spacingAndGlyphs" fill="#262626" font-weight="normal">5</text>
<line x1="387.5" y1="240.5" x2="425" y2="240.5" stroke="#676a98" stroke-width="1" />
<line x1="387.5" y1="307.5" x2="425" y2="307.5" stroke="#676a98" stroke-width="1" />
<line x1="385.8" y1="327.5" x2="425" y2="327.5" stroke="#676a98" stroke-width="1" />
<text transform="translate(436.55,293.28) rotate(-90)" x="0" y="0" font-size="15.4" textLength="39.49" lengthAdjust="spacingAndGlyphs" fill="#262626">EXT. 458</text>
<text transform="translate(436.7,323.96) rotate(-90)" x="0" y="0" font-size="14.54" textLength="14.38" lengthAdjust="spacingAndGlyphs" fill="#262626">141</text>
<rect x="480.5" y="28" width="244.8" height="216.2" rx="0" stroke="#c4c4c4" stroke-width="1" fill="none"/>
<line x1="603.5" y1="28" x2="603.5" y2="244.2" stroke="#c4c4c4" stroke-width="1" />
<rect x="480.5" y="251.3" width="245" height="220.7" rx="0" stroke="#c4c4c4" stroke-width="1" fill="none"/>
<line x1="603.5" y1="251.3" x2="603.5" y2="472" stroke="#c4c4c4" stroke-width="1" />
<polyline points="501.3,194.2 501.3,86.3 543.8,86.3 543.8,62.5 562.5,62.5 562.5,194.2 501.3,194.2" stroke="#9a9a9a" stroke-width="0.9" fill="none"/>
<polyline points="511.3,86.3 511.3,76.3 535.3,76.3 535.3,86.3" stroke="#9a9a9a" stroke-width="0.9" fill="none"/>
<circle cx="527" cy="101.7" r="8.1" stroke="#9a9a9a" stroke-width="0.9" fill="none" />
<circle cx="530.3" cy="183.3" r="7.9" stroke="#9a9a9a" stroke-width="0.9" fill="none" />
<line x1="523.5" y1="135" x2="523.5" y2="142.5" stroke="#9a9a9a" stroke-width="1" />
<line x1="523.5" y1="145" x2="523.5" y2="152.5" stroke="#9a9a9a" stroke-width="1" />
<line x1="536.5" y1="135" x2="536.5" y2="142.5" stroke="#9a9a9a" stroke-width="1" />
<line x1="536.5" y1="145" x2="536.5" y2="152.5" stroke="#9a9a9a" stroke-width="1" />
<rect x="510.2" y="194.2" width="4" height="20.8" rx="0" stroke="#9a9a9a" stroke-width="0.8" fill="none"/>
<line x1="510.2" y1="199.5" x2="514.2" y2="199.5" stroke="#9a9a9a" stroke-width="0.6" />
<line x1="510.2" y1="203.5" x2="514.2" y2="203.5" stroke="#9a9a9a" stroke-width="0.6" />
<line x1="510.2" y1="208.5" x2="514.2" y2="208.5" stroke="#9a9a9a" stroke-width="0.6" />
<polygon points="510.4,214.5 514,214.5 516.3,217.8 508.2,217.8" stroke="#888" stroke-width="0.5" fill="#a0a0a0"/>
<rect x="547.5" y="194.2" width="7.8" height="20.8" rx="0" stroke="#9a9a9a" stroke-width="0.8" fill="none"/>
<circle cx="551.4" cy="199" r="0.5" stroke="#9a9a9a" stroke-width="0" fill="#9a9a9a" />
<circle cx="551.4" cy="203.5" r="0.5" stroke="#9a9a9a" stroke-width="0" fill="#9a9a9a" />
<circle cx="551.4" cy="208" r="0.5" stroke="#9a9a9a" stroke-width="0" fill="#9a9a9a" />
<polygon points="549.5,214.5 553,214.5 555.3,217.8 547.2,217.8" stroke="#888" stroke-width="0.5" fill="#a0a0a0"/>
<line x1="563.5" y1="126.3" x2="563.5" y2="178.3" stroke="#9a9a9a" stroke-width="0.9" />
<polyline points="621.3,194.2 621.3,86.3 663.8,86.3 663.8,62.5 682.5,62.5 682.5,194.2 621.3,194.2" stroke="#9a9a9a" stroke-width="0.9" fill="none"/>
<polyline points="631.3,86.3 631.3,76.3 655.3,76.3 655.3,86.3" stroke="#9a9a9a" stroke-width="0.9" fill="none"/>
<circle cx="647" cy="101.7" r="8.1" stroke="#9a9a9a" stroke-width="0.9" fill="none" />
<circle cx="650.3" cy="183.3" r="7.9" stroke="#9a9a9a" stroke-width="0.9" fill="none" />
<line x1="643.5" y1="135" x2="643.5" y2="142.5" stroke="#9a9a9a" stroke-width="1" />
<line x1="643.5" y1="145" x2="643.5" y2="152.5" stroke="#9a9a9a" stroke-width="1" />
<line x1="656.5" y1="135" x2="656.5" y2="142.5" stroke="#9a9a9a" stroke-width="1" />
<line x1="656.5" y1="145" x2="656.5" y2="152.5" stroke="#9a9a9a" stroke-width="1" />
<rect x="630.2" y="194.2" width="4" height="20.8" rx="0" stroke="#9a9a9a" stroke-width="0.8" fill="none"/>
<line x1="630.2" y1="199.5" x2="634.2" y2="199.5" stroke="#9a9a9a" stroke-width="0.6" />
<line x1="630.2" y1="203.5" x2="634.2" y2="203.5" stroke="#9a9a9a" stroke-width="0.6" />
<line x1="630.2" y1="208.5" x2="634.2" y2="208.5" stroke="#9a9a9a" stroke-width="0.6" />
<polygon points="630.4,214.5 634,214.5 636.3,217.8 628.2,217.8" stroke="#888" stroke-width="0.5" fill="#a0a0a0"/>
<rect x="667.5" y="194.2" width="7.8" height="20.8" rx="0" stroke="#9a9a9a" stroke-width="0.8" fill="none"/>
<circle cx="671.4" cy="199" r="0.5" stroke="#9a9a9a" stroke-width="0" fill="#9a9a9a" />
<circle cx="671.4" cy="203.5" r="0.5" stroke="#9a9a9a" stroke-width="0" fill="#9a9a9a" />
<circle cx="671.4" cy="208" r="0.5" stroke="#9a9a9a" stroke-width="0" fill="#9a9a9a" />
<polygon points="669.5,214.5 673,214.5 675.3,217.8 667.2,217.8" stroke="#888" stroke-width="0.5" fill="#a0a0a0"/>
<rect x="682.5" y="126.3" width="4.7" height="52" rx="0" stroke="#9a9a9a" stroke-width="0.9" fill="none"/>
<polyline points="498,420.2 498,312.3 540.5,312.3 540.5,288.5 559.2,288.5 559.2,420.2 498,420.2" stroke="#9a9a9a" stroke-width="0.9" fill="none"/>
<polyline points="508,312.3 508,302.3 532,302.3 532,312.3" stroke="#9a9a9a" stroke-width="0.9" fill="none"/>
<circle cx="523.7" cy="327.7" r="8.1" stroke="#9a9a9a" stroke-width="0.9" fill="none" />
<circle cx="527" cy="409.3" r="7.9" stroke="#9a9a9a" stroke-width="0.9" fill="none" />
<line x1="520.5" y1="361" x2="520.5" y2="368.5" stroke="#9a9a9a" stroke-width="1" />
<line x1="520.5" y1="371" x2="520.5" y2="378.5" stroke="#9a9a9a" stroke-width="1" />
<line x1="533.5" y1="361" x2="533.5" y2="368.5" stroke="#9a9a9a" stroke-width="1" />
<line x1="533.5" y1="371" x2="533.5" y2="378.5" stroke="#9a9a9a" stroke-width="1" />
<rect x="506.9" y="420.2" width="4" height="20.8" rx="0" stroke="#9a9a9a" stroke-width="0.8" fill="none"/>
<line x1="506.9" y1="425.5" x2="510.9" y2="425.5" stroke="#9a9a9a" stroke-width="0.6" />
<line x1="506.9" y1="429.5" x2="510.9" y2="429.5" stroke="#9a9a9a" stroke-width="0.6" />
<line x1="506.9" y1="434.5" x2="510.9" y2="434.5" stroke="#9a9a9a" stroke-width="0.6" />
<polygon points="507.1,440.5 510.7,440.5 513,443.8 504.9,443.8" stroke="#888" stroke-width="0.5" fill="#a0a0a0"/>
<rect x="544.2" y="420.2" width="7.8" height="20.8" rx="0" stroke="#9a9a9a" stroke-width="0.8" fill="none"/>
<circle cx="548.1" cy="425" r="0.5" stroke="#9a9a9a" stroke-width="0" fill="#9a9a9a" />
<circle cx="548.1" cy="429.5" r="0.5" stroke="#9a9a9a" stroke-width="0" fill="#9a9a9a" />
<circle cx="548.1" cy="434" r="0.5" stroke="#9a9a9a" stroke-width="0" fill="#9a9a9a" />
<polygon points="546.2,440.5 549.7,440.5 552,443.8 543.9,443.8" stroke="#888" stroke-width="0.5" fill="#a0a0a0"/>
<rect x="559.2" y="352.3" width="7.8" height="52" rx="0" stroke="#9a9a9a" stroke-width="0.9" fill="none"/>
<polyline points="618,420.2 618,312.3 660.5,312.3 660.5,288.5 679.2,288.5 679.2,420.2 618,420.2" stroke="#9a9a9a" stroke-width="0.9" fill="none"/>
<polyline points="628,312.3 628,302.3 652,302.3 652,312.3" stroke="#9a9a9a" stroke-width="0.9" fill="none"/>
<circle cx="643.7" cy="327.7" r="8.1" stroke="#9a9a9a" stroke-width="0.9" fill="none" />
<circle cx="647" cy="409.3" r="7.9" stroke="#9a9a9a" stroke-width="0.9" fill="none" />
<line x1="640.5" y1="361" x2="640.5" y2="368.5" stroke="#9a9a9a" stroke-width="1" />
<line x1="640.5" y1="371" x2="640.5" y2="378.5" stroke="#9a9a9a" stroke-width="1" />
<line x1="653.5" y1="361" x2="653.5" y2="368.5" stroke="#9a9a9a" stroke-width="1" />
<line x1="653.5" y1="371" x2="653.5" y2="378.5" stroke="#9a9a9a" stroke-width="1" />
<rect x="626.9" y="420.2" width="4" height="20.8" rx="0" stroke="#9a9a9a" stroke-width="0.8" fill="none"/>
<line x1="626.9" y1="425.5" x2="630.9" y2="425.5" stroke="#9a9a9a" stroke-width="0.6" />
<line x1="626.9" y1="429.5" x2="630.9" y2="429.5" stroke="#9a9a9a" stroke-width="0.6" />
<line x1="626.9" y1="434.5" x2="630.9" y2="434.5" stroke="#9a9a9a" stroke-width="0.6" />
<polygon points="627.1,440.5 630.7,440.5 633,443.8 624.9,443.8" stroke="#888" stroke-width="0.5" fill="#a0a0a0"/>
<rect x="664.2" y="420.2" width="7.8" height="20.8" rx="0" stroke="#9a9a9a" stroke-width="0.8" fill="none"/>
<circle cx="668.1" cy="425" r="0.5" stroke="#9a9a9a" stroke-width="0" fill="#9a9a9a" />
<circle cx="668.1" cy="429.5" r="0.5" stroke="#9a9a9a" stroke-width="0" fill="#9a9a9a" />
<circle cx="668.1" cy="434" r="0.5" stroke="#9a9a9a" stroke-width="0" fill="#9a9a9a" />
<polygon points="666.2,440.5 669.7,440.5 672,443.8 663.9,443.8" stroke="#888" stroke-width="0.5" fill="#a0a0a0"/>
<rect x="679.2" y="352.3" width="11.6" height="52" rx="0" stroke="#9a9a9a" stroke-width="0.9" fill="none"/>
<text x="501.36" y="41.9" font-size="9.89" textLength="4.77" lengthAdjust="spacingAndGlyphs" fill="#4f4f63" font-weight="normal">0</text>
<text x="512.4" y="42.4" font-size="10.21" textLength="47.2" lengthAdjust="spacingAndGlyphs" fill="#4f4f63" font-weight="normal">kader/cadre</text>
<text x="512.88" y="53.6" font-size="10.08" textLength="49.98" lengthAdjust="spacingAndGlyphs" fill="#4f4f63" font-weight="normal">frame/Rahme</text>
<line x1="556.7" y1="113.5" x2="583.3" y2="113.5" stroke="#9a9a9a" stroke-width="0.8" />
<line x1="562.5" y1="104" x2="562.5" y2="126" stroke="#9a9a9a" stroke-width="0.6" />
<text x="571.25" y="111.9" font-size="10.59" textLength="9.89" lengthAdjust="spacingAndGlyphs" fill="#262626" font-weight="normal">20</text>
<polygon points="562.5,113.5 558.3,112.5 558.3,114.5" fill="#4a4a4a"/>
<polygon points="563.8,113.5 568,112.5 568,114.5" fill="#4a4a4a"/>
<line x1="563.8" y1="126.5" x2="587" y2="126.5" stroke="#9a9a9a" stroke-width="0.8" />
<line x1="563.8" y1="178.5" x2="587" y2="178.5" stroke="#9a9a9a" stroke-width="0.8" />
<line x1="585.5" y1="126.3" x2="585.5" y2="178.3" stroke="#9a9a9a" stroke-width="0.8" />
<text transform="translate(584.89,167.71) rotate(-90)" x="0" y="0" font-size="11.72" textLength="32.75" lengthAdjust="spacingAndGlyphs" fill="#262626">458 ext.</text>
<polygon points="585.5,126.3 584.5,130.5 586.5,130.5" fill="#4a4a4a"/>
<polygon points="585.5,178.3 584.5,174.1 586.5,174.1" fill="#4a4a4a"/>
<line x1="556.7" y1="212.5" x2="574.2" y2="212.5" stroke="#9a9a9a" stroke-width="0.8" />
<text x="568.75" y="210.7" font-size="10.59" textLength="4.94" lengthAdjust="spacingAndGlyphs" fill="#262626" font-weight="normal">6</text>
<polygon points="556,212.5 551.8,211.5 551.8,213.5" fill="#4a4a4a"/>
<polygon points="562.5,212.5 566.7,211.5 566.7,213.5" fill="#4a4a4a"/>
<line x1="501.5" y1="194" x2="501.5" y2="232" stroke="#9a9a9a" stroke-width="0.6" />
<line x1="563.5" y1="178" x2="563.5" y2="232" stroke="#9a9a9a" stroke-width="0.6" />
<line x1="501.7" y1="230.5" x2="563.3" y2="230.5" stroke="#9a9a9a" stroke-width="0.8" />
<text x="525.47" y="229.1" font-size="10.75" textLength="13.63" lengthAdjust="spacingAndGlyphs" fill="#262626" font-weight="normal">541</text>
<polygon points="501.7,230.5 505.9,229.5 505.9,231.5" fill="#4a4a4a"/>
<polygon points="563.3,230.5 559.1,229.5 559.1,231.5" fill="#4a4a4a"/>
<text x="611.52" y="41.9" font-size="10.03" textLength="24.01" lengthAdjust="spacingAndGlyphs" fill="#4f4f63" font-weight="normal">4,5 cm</text>
<text x="641.1" y="42.4" font-size="10.21" textLength="46.79" lengthAdjust="spacingAndGlyphs" fill="#4f4f63" font-weight="normal">kader/cadre</text>
<text x="641.58" y="53.6" font-size="10.08" textLength="49.58" lengthAdjust="spacingAndGlyphs" fill="#4f4f63" font-weight="normal">frame/Rahme</text>
<line x1="677" y1="113.5" x2="703" y2="113.5" stroke="#9a9a9a" stroke-width="0.8" />
<line x1="682.5" y1="104" x2="682.5" y2="126" stroke="#9a9a9a" stroke-width="0.6" />
<text x="689.51" y="112.1" font-size="10.17" textLength="10.87" lengthAdjust="spacingAndGlyphs" fill="#262626" font-weight="normal">20</text>
<polygon points="682.5,113.5 678.3,112.5 678.3,114.5" fill="#4a4a4a"/>
<polygon points="683.8,113.5 688,112.5 688,114.5" fill="#4a4a4a"/>
<line x1="687.2" y1="126.5" x2="715" y2="126.5" stroke="#9a9a9a" stroke-width="0.8" />
<line x1="687.2" y1="178.5" x2="715" y2="178.5" stroke="#9a9a9a" stroke-width="0.8" />
<line x1="713.5" y1="126.3" x2="713.5" y2="178.3" stroke="#9a9a9a" stroke-width="0.8" />
<text transform="translate(712.4,167.69) rotate(-90)" x="0" y="0" font-size="10.59" textLength="29.24" lengthAdjust="spacingAndGlyphs" fill="#262626">458 ext.</text>
<polygon points="713.5,126.3 712.5,130.5 714.5,130.5" fill="#4a4a4a"/>
<polygon points="713.5,178.3 712.5,174.1 714.5,174.1" fill="#4a4a4a"/>
<line x1="677.5" y1="210.5" x2="705" y2="210.5" stroke="#9a9a9a" stroke-width="0.8" />
<line x1="687.5" y1="178" x2="687.5" y2="232" stroke="#9a9a9a" stroke-width="0.6" />
<text x="695.09" y="208.6" font-size="10.03" textLength="9.98" lengthAdjust="spacingAndGlyphs" fill="#262626" font-weight="normal">45</text>
<polygon points="682.5,210.5 678.3,209.5 678.3,211.5" fill="#4a4a4a"/>
<polygon points="687.2,210.5 691.4,209.5 691.4,211.5" fill="#4a4a4a"/>
<line x1="621.5" y1="194" x2="621.5" y2="232" stroke="#9a9a9a" stroke-width="0.6" />
<line x1="621.7" y1="230.5" x2="687.5" y2="230.5" stroke="#9a9a9a" stroke-width="0.8" />
<text x="647.15" y="229.1" font-size="10.59" textLength="14.49" lengthAdjust="spacingAndGlyphs" fill="#262626" font-weight="normal">580</text>
<polygon points="621.7,230.5 625.9,229.5 625.9,231.5" fill="#4a4a4a"/>
<polygon points="687.5,230.5 683.3,229.5 683.3,231.5" fill="#4a4a4a"/>
<text x="492.05" y="266.6" font-size="10.21" textLength="74.63" lengthAdjust="spacingAndGlyphs" fill="#4f4f63" font-weight="normal">7,5 cm kader/cadre</text>
<text x="519.58" y="279.1" font-size="10.21" textLength="49.98" lengthAdjust="spacingAndGlyphs" fill="#4f4f63" font-weight="normal">frame/Rahme</text>
<line x1="567.5" y1="352.5" x2="587" y2="352.5" stroke="#9a9a9a" stroke-width="0.8" />
<line x1="567.5" y1="404.5" x2="587" y2="404.5" stroke="#9a9a9a" stroke-width="0.8" />
<line x1="584.5" y1="352.5" x2="584.5" y2="404.2" stroke="#9a9a9a" stroke-width="0.8" />
<text transform="translate(582.89,394.39) rotate(-90)" x="0" y="0" font-size="11.3" textLength="29.34" lengthAdjust="spacingAndGlyphs" fill="#262626">458 ext.</text>
<polygon points="584.5,352.5 583.5,356.7 585.5,356.7" fill="#4a4a4a"/>
<polygon points="584.5,404.2 583.5,400 585.5,400" fill="#4a4a4a"/>
<line x1="559.2" y1="438.5" x2="581.7" y2="438.5" stroke="#9a9a9a" stroke-width="0.8" />
<line x1="567.5" y1="404" x2="567.5" y2="463" stroke="#9a9a9a" stroke-width="0.6" />
<text x="571.53" y="436.6" font-size="10.75" textLength="10.15" lengthAdjust="spacingAndGlyphs" fill="#262626" font-weight="normal">75</text>
<polygon points="559.7,438.5 555.5,437.5 555.5,439.5" fill="#4a4a4a"/>
<polygon points="567.5,438.5 571.7,437.5 571.7,439.5" fill="#4a4a4a"/>
<line x1="498.5" y1="421" x2="498.5" y2="463" stroke="#9a9a9a" stroke-width="0.6" />
<line x1="498.3" y1="461.5" x2="567.5" y2="461.5" stroke="#9a9a9a" stroke-width="0.8" />
<text x="526.3" y="459.1" font-size="10.17" textLength="13.21" lengthAdjust="spacingAndGlyphs" fill="#262626" font-weight="normal">610</text>
<polygon points="498.3,461.5 502.5,460.5 502.5,462.5" fill="#4a4a4a"/>
<polygon points="567.5,461.5 563.3,460.5 563.3,462.5" fill="#4a4a4a"/>
<text x="616.36" y="268.2" font-size="10.21" textLength="77.02" lengthAdjust="spacingAndGlyphs" fill="#4f4f63" font-weight="normal">10,5 cm kader/cadre</text>
<text x="647.39" y="280.7" font-size="10.21" textLength="48.77" lengthAdjust="spacingAndGlyphs" fill="#4f4f63" font-weight="normal">frame/Rahme</text>
<line x1="691.3" y1="352.5" x2="711" y2="352.5" stroke="#9a9a9a" stroke-width="0.8" />
<line x1="691.3" y1="404.5" x2="711" y2="404.5" stroke="#9a9a9a" stroke-width="0.8" />
<line x1="708.5" y1="352.5" x2="708.5" y2="404.2" stroke="#9a9a9a" stroke-width="0.8" />
<text transform="translate(706.6,394.39) rotate(-90)" x="0" y="0" font-size="10.59" textLength="29.34" lengthAdjust="spacingAndGlyphs" fill="#262626">458 ext.</text>
<polygon points="708.5,352.5 707.5,356.7 709.5,356.7" fill="#4a4a4a"/>
<polygon points="708.5,404.2 707.5,400 709.5,400" fill="#4a4a4a"/>
<line x1="679.7" y1="438.5" x2="691.3" y2="438.5" stroke="#9a9a9a" stroke-width="0.8" />
<line x1="691.5" y1="404" x2="691.5" y2="463" stroke="#9a9a9a" stroke-width="0.6" />
<text x="678.63" y="436.6" font-size="10.59" textLength="12.48" lengthAdjust="spacingAndGlyphs" fill="#262626" font-weight="normal">105</text>
<polygon points="679.7,438.5 675.5,437.5 675.5,439.5" fill="#4a4a4a"/>
<polygon points="691.3,438.5 695.5,437.5 695.5,439.5" fill="#4a4a4a"/>
<line x1="618.5" y1="421" x2="618.5" y2="463" stroke="#9a9a9a" stroke-width="0.6" />
<line x1="618.3" y1="461.5" x2="691.3" y2="461.5" stroke="#9a9a9a" stroke-width="0.8" />
<text x="647.06" y="459.1" font-size="10.17" textLength="14.59" lengthAdjust="spacingAndGlyphs" fill="#262626" font-weight="normal">640</text>
<polygon points="618.3,461.5 622.5,460.5 622.5,462.5" fill="#4a4a4a"/>
<polygon points="691.3,461.5 687.1,460.5 687.1,462.5" fill="#4a4a4a"/>
<rect x="479.2" y="503.1" width="61.2" height="52.7" fill="#aaaaaa"/>
<path d="M487.8,535 V508.9 H498.3 L510.3,520.3 L521.7,508.9 H532.2 V535 H524.3 V517.7 L510.3,528.7 L495.6,517.7 V535 Z" fill="#1c1c1c"/>
<text x="483.97" y="549.73" font-size="16.74" textLength="51.47" lengthAdjust="spacingAndGlyphs" fill="#222" font-weight="normal">design</text>
<text x="478.66" y="565.63" font-size="7.06" textLength="61.92" lengthAdjust="spacingAndGlyphs" fill="#8c8c8c" font-weight="normal">PASSION FOR FIRE</text>
<text x="567.11" y="565.87" font-size="12.94" textLength="128.19" lengthAdjust="spacingAndGlyphs" fill="#111" font-weight="bold">Luna Diamond 850H</text>
</svg></body></html>
